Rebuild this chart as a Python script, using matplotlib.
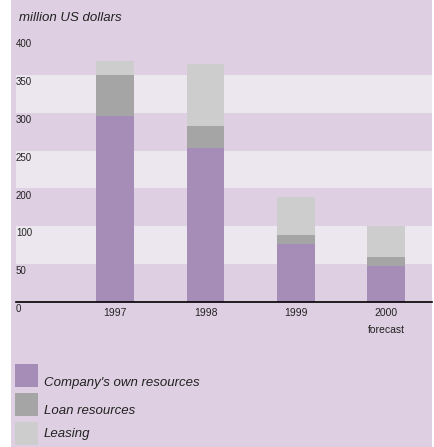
import matplotlib
matplotlib.use("Agg")
import numpy as np
from matplotlib import pyplot as plt
from matplotlib.patches import Rectangle

plt.rcParams["font.family"] = ["Liberation Sans", "DejaVu Sans"]

years = ["1997", "1998", "1999", "2000\nforecast"]
own_resources = [246, 204, 76, 47]
loan_resources = [54, 29, 12, 12]
leasing = [18, 82, 51, 41]

tick_values = [0, 50, 100, 150, 200, 250, 300, 350]
tick_labels = ["0", "50", "100", "200", "250", "300", "350", "400"]

series_names = ["Company's own resources", "Loan resources", "Leasing"]

PURPLE = "#a68db8"
DARK_GREY = "#a5a5a5"
LIGHT_GREY = "#cdcdcd"
LAVENDER = "#ded0e2"
PALE = "#ece7ee"

W, H = 434, 447
fig = plt.figure(figsize=(W / 100, H / 100), dpi=100)
fig.patch.set_facecolor("white")


def fx(px):
    return px / W


def fy(py):
    return 1 - py / H


# lavender panel behind everything
fig.patches.append(Rectangle((fx(11), 0), fx(432) - fx(11), 1,
                             transform=fig.transFigure, color=LAVENDER,
                             lw=0, zorder=-10))

ax = fig.add_axes([fx(16), fy(302), fx(432) - fx(16), fy(37) - fy(302)])
ax.set_facecolor("none")
for s in ax.spines.values():
    s.set_visible(False)
ax.set_xlim(-1.1, 3.51)
ax.set_ylim(0, 350)

for lo in (50, 150, 250):
    ax.axhspan(lo, lo + 50, color=PALE, lw=0, zorder=1)

x = np.arange(len(years))
w = 0.42
own = np.array(own_resources)
loan = np.array(loan_resources)
ax.bar(x, own, w, color=PURPLE, zorder=3)
ax.bar(x, loan, w, bottom=own, color=DARK_GREY, zorder=3)
ax.bar(x, leasing, w, bottom=own + loan, color=LIGHT_GREY, zorder=3)

ax.axhline(0, color="black", lw=1.2, zorder=4, clip_on=False)

ax.set_yticks([])
ax.set_xticks(x)
ax.set_xticklabels(years, fontsize=7.5, color="#222222", linespacing=1.9, va="top")
ax.tick_params(axis="x", length=0, pad=4)

for v, lab in zip(tick_values, tick_labels):
    ax.annotate(lab, xy=(0, v), xycoords=("axes fraction", "data"),
                xytext=(0, -1.5), textcoords="offset points",
                ha="left", va="top", fontsize=7, color="#222222", zorder=5)

fig.text(fx(19), fy(21), "million US dollars", fontsize=9.5, style="italic",
         color="#222222", va="baseline")

# legend
swatches = [PURPLE, DARK_GREY, LIGHT_GREY]
box_tops = [364, 393, 422]
baselines = [386, 414, 437]
for c, top, base, name in zip(swatches, box_tops, baselines, series_names):
    fig.patches.append(Rectangle((fx(15), fy(top + 23)), fx(23), 23 / H,
                                 transform=fig.transFigure, color=c, lw=0,
                                 zorder=2))
    fig.text(fx(44), fy(base), name, fontsize=9.5, style="italic",
             color="#222222", va="baseline")

fig.savefig("out.png", dpi=100)
